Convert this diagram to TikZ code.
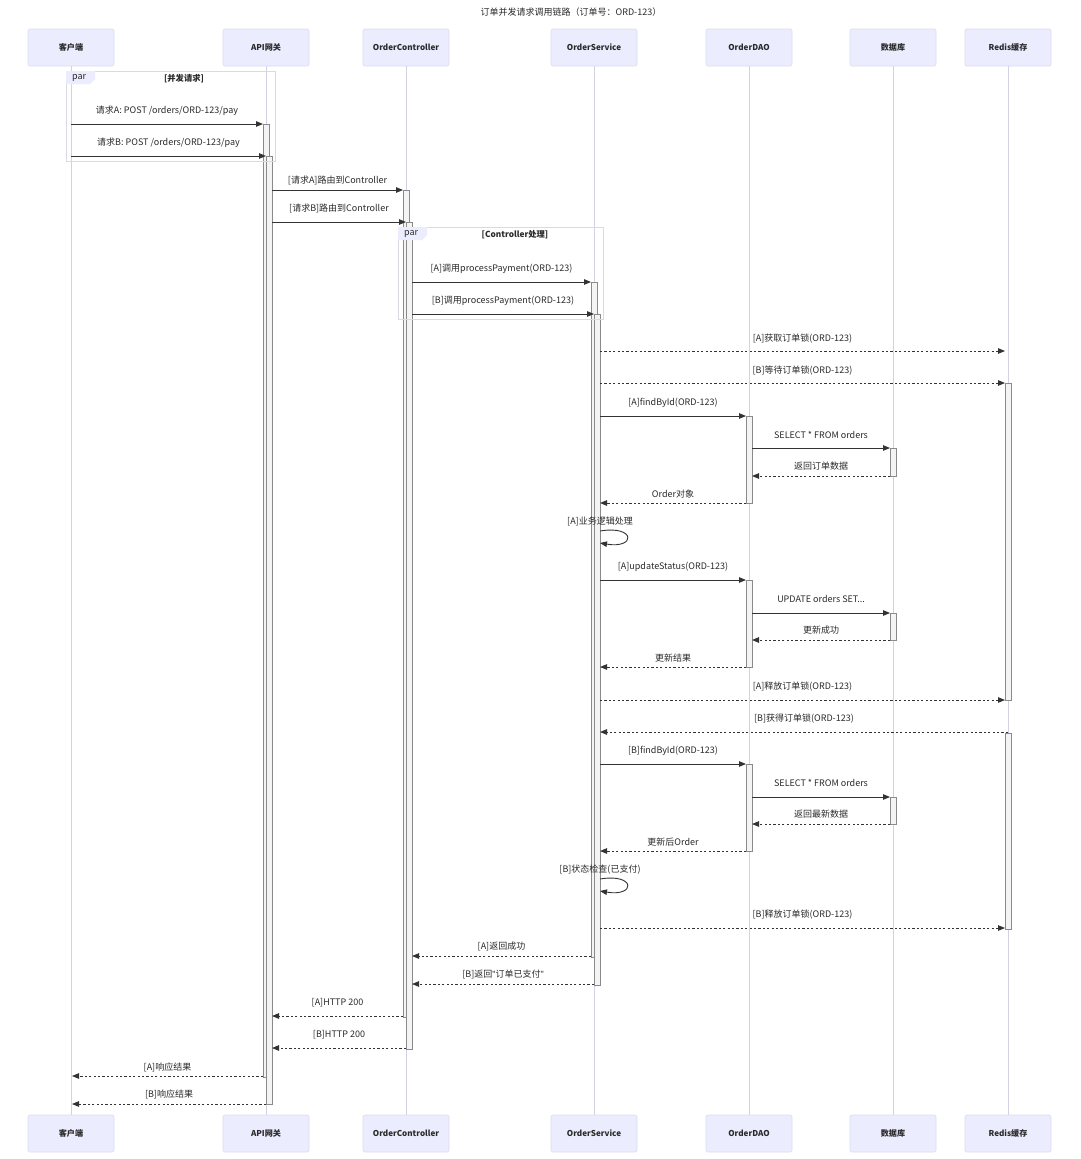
\documentclass[tikz,border=0pt]{standalone}
\usepackage{fontspec}
\setmainfont{Noto Sans CJK SC}
\newfontfamily\latinq{Liberation Sans}
\usetikzlibrary{arrows.meta}
\definecolor{actfill}{HTML}{ECECFF}
\definecolor{actdraw}{HTML}{DCDCEE}
\definecolor{lifecol}{HTML}{D2D2E4}
\definecolor{txtcol}{HTML}{2A2A2A}
\definecolor{arrcol}{HTML}{333333}
\definecolor{barfill}{HTML}{F4F4F4}
\definecolor{bardraw}{HTML}{8A8A8A}
\definecolor{parline}{HTML}{DADAE2}
\newcount\msgno
\newcommand\msgline[6]{% style, x1, x2, y, label y, label
  \global\advance\msgno by 1
  \coordinate (ms\the\msgno) at (#2,#4);
  \coordinate (me\the\msgno) at (#3,#4);
  \draw[#1] (ms\the\msgno) -- (me\the\msgno);
  \node[lbl] (ml\the\msgno) at ({(#2+#3)/2},#5+1.5) {#6};
}
\newcommand\selfmsg[3]{% x, y, label
  \global\advance\msgno by 1
  \coordinate (ms\the\msgno) at (#1,#2);
  \coordinate (me\the\msgno) at (#1,#2+12);
  \draw[msgarrow] (ms\the\msgno) .. controls +(36,-6) and +(36,6) .. (me\the\msgno);
  \node[lbl] (ml\the\msgno) at (#1,#2-9.5) {#3};
}
\newcommand\parframe[6]{% x1,y1,x2,y2,label x,label
  \draw[parline, line width=0.6pt] (#1,#2) rectangle (#3,#4);
  \fill[actfill] (#1,#2) -- (#1+29,#2) -- (#1+29,#2+8) -- (#1+24,#2+13) -- (#1,#2+13) -- cycle;
  \node[lbl, anchor=west] at (#1+6,#2+7.5) {par};
  \node[lbl, font=\fontsize{8.3}{10}\selectfont\bfseries] at (#5,#2+7.5) {#6};
}
\tikzset{
  actor/.style={draw=actdraw, fill=actfill, line width=0.6pt, rounded corners=2pt,
    minimum width=86pt, minimum height=37pt, inner sep=0pt, text=txtcol,
    font=\fontsize{8.1}{10}\selectfont\bfseries},
  lbl/.style={text=txtcol, inner sep=0pt, font=\fontsize{9}{10}\selectfont},
  life/.style={draw=lifecol, line width=0.9pt},
  bar/.style={draw=bardraw, fill=barfill, line width=0.6pt},
  msgarrow/.style={draw=arrcol, line width=0.9pt, -{Triangle[length=7pt,width=5.5pt]}},
  retarrow/.style={msgarrow, dash pattern=on 2.2pt off 2.2pt},
}
\begin{document}
\begin{tikzpicture}[x=1pt,y=-1pt]
\useasboundingbox[fill=white] (0,0) rectangle (1080,1159);
\node[lbl] (title) at (571,12) {订单并发请求调用链路（订单号：ORD-123）};
% participants
\foreach \n/\x/\t in {c/71/客户端, g/266/API网关, k/406/OrderController, s/594/OrderService, d/749/OrderDAO, b/893/数据库, r/1008/Redis缓存}{
  \node[actor] (t\n) at (\x,47.5) {\t};
  \node[actor] (b\n) at (\x,1133.5) {\t};
  \draw[life] (t\n.south) -- (b\n.north);
}
% activations
\draw[bar] (263,124) rectangle (269,1077);
\draw[bar] (266,156) rectangle (272,1104);
\draw[bar] (403,190) rectangle (409,1017);
\draw[bar] (406,222) rectangle (412,1049);
\draw[bar] (591,282) rectangle (597,957);
\draw[bar] (594,314) rectangle (600,985);
\draw[bar] (1005,383) rectangle (1011,700);
\draw[bar] (1005,733) rectangle (1011,929);
\draw[bar] (746,416) rectangle (752,503);
\draw[bar] (746,580) rectangle (752,667);
\draw[bar] (746,764) rectangle (752,851);
\draw[bar] (890,448) rectangle (896,476);
\draw[bar] (890,613) rectangle (896,640);
\draw[bar] (890,797) rectangle (896,824);
% par frames
\parframe{66}{71}{275}{161}{184}{[并发请求]}
\parframe{398}{227}{603}{319}{515}{[Controller处理]}
% messages
\msgline{msgarrow}{71}{263}{124}{109}{请求A: POST /orders/ORD-123/pay}
\msgline{msgarrow}{71}{266}{156}{141}{请求B: POST /orders/ORD-123/pay}
\msgline{msgarrow}{272}{403}{190}{179}{[请求A]路由到Controller}
\msgline{msgarrow}{272}{406}{222}{207}{[请求B]路由到Controller}
\msgline{msgarrow}{412}{591}{282}{267}{[A]调用processPayment(ORD-123)}
\msgline{msgarrow}{412}{594}{314}{299}{[B]调用processPayment(ORD-123)}
\msgline{retarrow}{600}{1005}{351}{337}{[A]获取订单锁(ORD-123)}
\msgline{retarrow}{600}{1005}{383}{369}{[B]等待订单锁(ORD-123)}
\msgline{msgarrow}{600}{746}{416}{401}{[A]findById(ORD-123)}
\msgline{msgarrow}{752}{890}{448}{433}{SELECT * FROM orders}
\msgline{retarrow}{890}{752}{476}{465}{返回订单数据}
\msgline{retarrow}{746}{600}{503}{493}{Order对象}
\selfmsg{600}{531}{[A]业务逻辑处理}
\msgline{msgarrow}{600}{746}{580}{565}{[A]updateStatus(ORD-123)}
\msgline{msgarrow}{752}{890}{613}{597}{UPDATE orders SET...}
\msgline{retarrow}{890}{752}{640}{629}{更新成功}
\msgline{retarrow}{746}{600}{667}{657}{更新结果}
\msgline{retarrow}{600}{1005}{700}{685}{[A]释放订单锁(ORD-123)}
\msgline{retarrow}{1008}{600}{732}{717}{[B]获得订单锁(ORD-123)}
\msgline{msgarrow}{600}{746}{764}{749}{[B]findById(ORD-123)}
\msgline{msgarrow}{752}{890}{797}{781}{SELECT * FROM orders}
\msgline{retarrow}{890}{752}{824}{813}{返回最新数据}
\msgline{retarrow}{746}{600}{851}{841}{更新后Order}
\selfmsg{600}{879}{[B]状态检查(已支付)}
\msgline{retarrow}{600}{1005}{928}{913}{[B]释放订单锁(ORD-123)}
\msgline{retarrow}{591}{412}{956}{945}{[A]返回成功}
\msgline{retarrow}{594}{412}{984}{973}{[B]返回{\latinq"}订单已支付{\latinq"}}
\msgline{retarrow}{403}{272}{1016}{1001}{[A]HTTP 200}
\msgline{retarrow}{406}{272}{1048}{1033}{[B]HTTP 200}
\msgline{retarrow}{263}{72}{1076}{1066}{[A]响应结果}
\msgline{retarrow}{266}{72}{1104}{1093}{[B]响应结果}
\end{tikzpicture}
\end{document}
